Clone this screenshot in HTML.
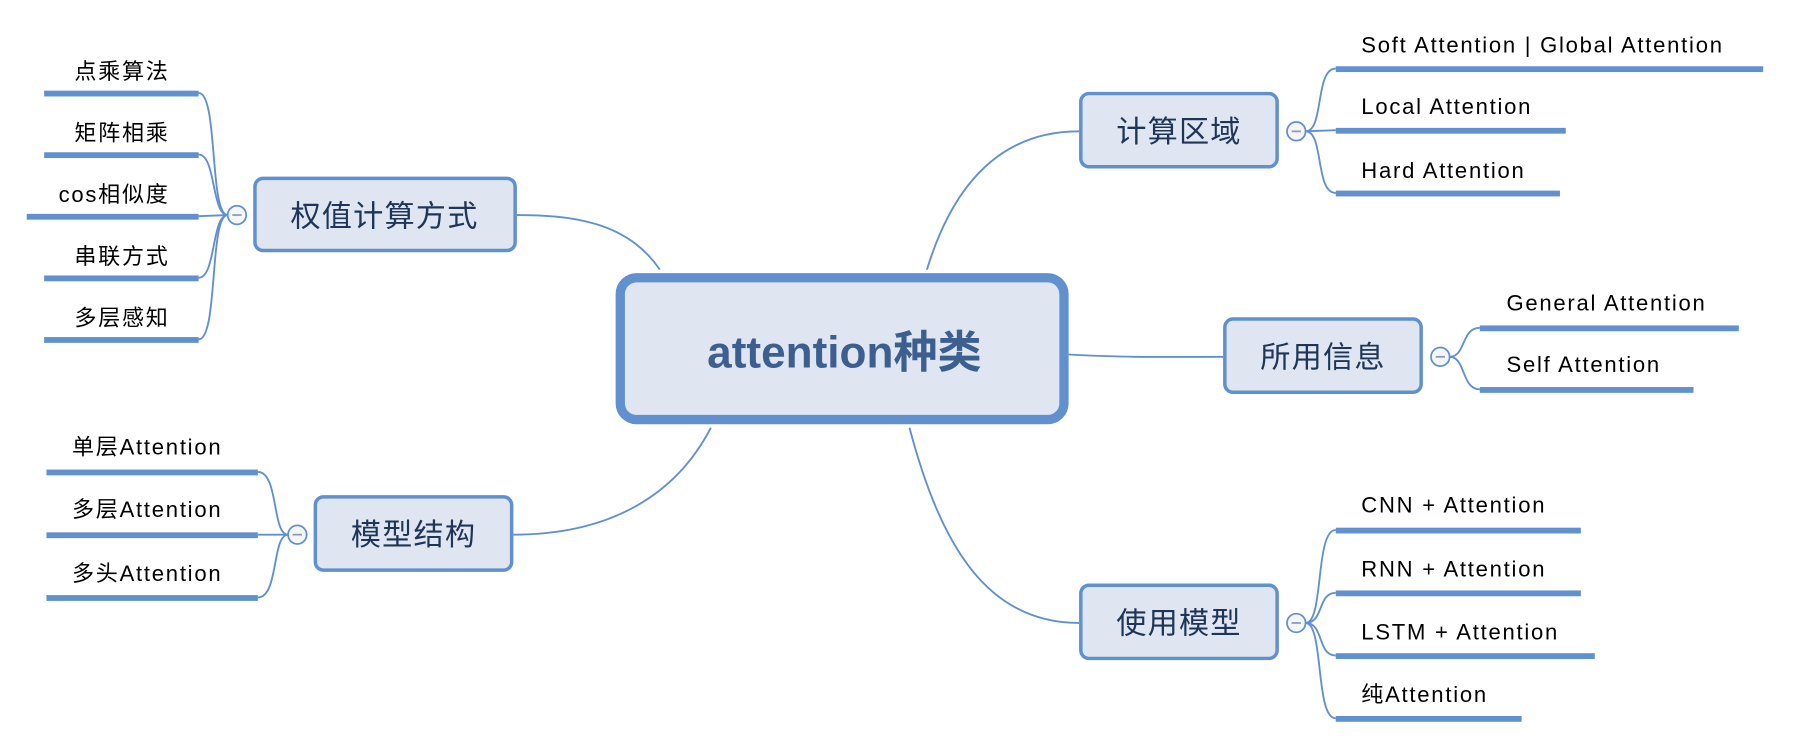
<!DOCTYPE html>
<html><head><meta charset="utf-8"><style>
html,body{margin:0;padding:0;background:#fff;}
svg{display:block;}
text{font-family:"Liberation Sans","Noto Sans CJK SC",sans-serif;}
</style></head><body>
<svg width="1812" height="752" viewBox="0 0 1560 647" preserveAspectRatio="none" xmlns="http://www.w3.org/2000/svg">
<g fill="none" stroke="#6190cf" stroke-width="1.6">
<path d="M568,232 C540,190 490,185 445,185"/>
<path d="M798,232 C820,160 860,113 929,113"/>
<path d="M920,305 C980,308 1000,307 1053,307"/>
<path d="M612,368 C580,430 520,460 442,460"/>
<path d="M783,368 C810,470 850,536 929,536"/>
<path d="M196,185 C180,185 188,80 171,80"/>
<path d="M196,185 C182,185 186,133 171,133"/>
<path d="M196,185 L171,186"/>
<path d="M196,185 C182,185 186,239 171,239"/>
<path d="M196,185 C180,185 188,292 171,292"/>
<path d="M1124,113 C1140,113 1132,59 1150,59"/>
<path d="M1124,113 L1150,112"/>
<path d="M1124,113 C1140,113 1132,166 1150,166"/>
<path d="M1248,307 C1262,307 1258,282 1274,282"/>
<path d="M1248,307 C1262,307 1258,335 1274,335"/>
<path d="M248,460 C234,460 240,406 222,406"/>
<path d="M248,460 L222,460"/>
<path d="M248,460 C234,460 240,514 222,514"/>
<path d="M1124,536 C1140,536 1132,456 1150,456"/>
<path d="M1124,536 C1140,536 1134,510 1150,510"/>
<path d="M1124,536 C1140,536 1134,564 1150,564"/>
<path d="M1124,536 C1140,536 1132,618 1150,618"/>
</g>
<g fill="#6190cf">
<rect x="38" y="78" width="133" height="5"/>
<rect x="38" y="131" width="133" height="5"/>
<rect x="23" y="184" width="148" height="5"/>
<rect x="38" y="237" width="133" height="5"/>
<rect x="38" y="290" width="133" height="5"/>
<rect x="1150" y="57" width="368" height="5"/>
<rect x="1150" y="110" width="198" height="5"/>
<rect x="1150" y="164" width="193" height="5"/>
<rect x="1274" y="280" width="223" height="5"/>
<rect x="1274" y="333" width="184" height="5"/>
<rect x="40" y="404" width="182" height="5"/>
<rect x="40" y="458" width="182" height="5"/>
<rect x="40" y="512" width="182" height="5"/>
<rect x="1150" y="454" width="211" height="5"/>
<rect x="1150" y="508" width="211" height="5"/>
<rect x="1150" y="562" width="223" height="5"/>
<rect x="1150" y="616" width="160" height="5"/>
</g>
<g fill="#000" font-size="19" letter-spacing="1.5">
<text x="146" y="68" text-anchor="end">点乘算法</text>
<text x="146" y="121" text-anchor="end">矩阵相乘</text>
<text x="146" y="174" text-anchor="end">cos相似度</text>
<text x="146" y="227" text-anchor="end">串联方式</text>
<text x="146" y="280" text-anchor="end">多层感知</text>
<text x="1172" y="45">Soft Attention | Global Attention</text>
<text x="1172" y="98">Local Attention</text>
<text x="1172" y="153">Hard Attention</text>
<text x="1297" y="267">General Attention</text>
<text x="1297" y="320">Self Attention</text>
<text x="62" y="391">单层Attention</text>
<text x="62" y="445">多层Attention</text>
<text x="62" y="500">多头Attention</text>
<text x="1172" y="441">CNN + Attention</text>
<text x="1172" y="496">RNN + Attention</text>
<text x="1172" y="550">LSTM + Attention</text>
<text x="1172" y="604">纯Attention</text>
</g>
<rect x="534" y="239" width="382" height="122" rx="14" fill="#dfe6f1" stroke="#6190cf" stroke-width="8"/>
<text x="727" y="316" text-anchor="middle" font-size="38" font-weight="bold" fill="#3d5f8f">attention种类</text>
<g fill="#dfe6f1" stroke="#6190cf" stroke-width="3">
<rect x="219.5" y="153.5" width="224" height="62" rx="7"/>
<rect x="930.5" y="80.5" width="169" height="63" rx="7"/>
<rect x="1054.5" y="274.5" width="169" height="63" rx="7"/>
<rect x="271.5" y="427.5" width="169" height="63" rx="7"/>
<rect x="930.5" y="503.5" width="169" height="63" rx="7"/>
</g>
<g fill="#1e3557" font-size="26" text-anchor="middle" letter-spacing="1">
<text x="331" y="195">权值计算方式</text>
<text x="1015" y="122">计算区域</text>
<text x="1139" y="316">所用信息</text>
<text x="356" y="469">模型结构</text>
<text x="1015" y="545">使用模型</text>
</g>
<g fill="#f4f6fa" stroke="#6190cf" stroke-width="1.5">
<circle cx="204" cy="185" r="8"/>
<circle cx="1116" cy="113" r="8"/>
<circle cx="1240" cy="307" r="8"/>
<circle cx="256" cy="460" r="8"/>
<circle cx="1116" cy="536" r="8"/>
</g>
<g stroke="#8a9ab5" stroke-width="1.5">
<line x1="200" y1="185" x2="208" y2="185"/>
<line x1="1112" y1="113" x2="1120" y2="113"/>
<line x1="1236" y1="307" x2="1244" y2="307"/>
<line x1="252" y1="460" x2="260" y2="460"/>
<line x1="1112" y1="536" x2="1120" y2="536"/>
</g>
</svg>
</body></html>
